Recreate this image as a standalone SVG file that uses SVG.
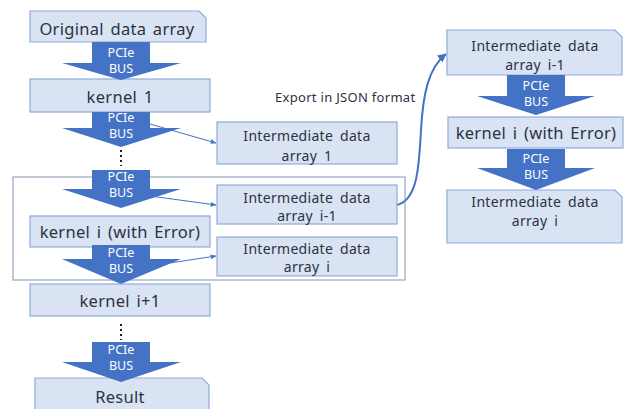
<svg xmlns="http://www.w3.org/2000/svg" width="631" height="409" viewBox="0 0 631 409">
<style>
.box{fill:#dae3f3;stroke:#8faadc;stroke-width:1.2}
.bus{fill:#4472c4}
.bt{font-family:"Noto Sans","Open Sans",sans-serif;font-size:12.5px;fill:#ffffff;text-anchor:middle;dominant-baseline:central}
.t16{font-family:"Noto Sans","Open Sans",sans-serif;font-size:16.5px;fill:#2a3342;text-anchor:middle;dominant-baseline:central;word-spacing:2px;letter-spacing:0.3px}
.t14{font-family:"Noto Sans","Open Sans",sans-serif;font-size:14px;fill:#2a3342;text-anchor:middle;dominant-baseline:central;word-spacing:3px;letter-spacing:0.3px}
.lbl{font-family:"Noto Sans","Open Sans",sans-serif;font-size:13px;fill:#2a3342;dominant-baseline:central;letter-spacing:0.3px}
.conn{fill:none;stroke:#4472c4;stroke-width:1}
.dots{fill:none;stroke:#222;stroke-width:2;stroke-dasharray:2 3}
</style>
<defs>
<marker id="ah" viewBox="0 0 10 10" refX="9" refY="5" markerWidth="6" markerHeight="6" orient="auto" markerUnits="userSpaceOnUse"><path d="M0,1 L10,5 L0,9 z" fill="#4472c4"/></marker>
<marker id="ah2" viewBox="0 0 10 10" refX="9" refY="5" markerWidth="9" markerHeight="9" orient="auto" markerUnits="userSpaceOnUse"><path d="M0,0 L10,5 L0,10 z" fill="#4472c4"/></marker>
</defs>
<g id="connectors">
<path class="conn" d="M150,124 L216,143" marker-end="url(#ah)"/>
<path class="conn" d="M150,196 L216,205" marker-end="url(#ah)"/>
<path class="conn" d="M150,266 L216,256" marker-end="url(#ah)"/>
<path d="M397,205 C418,200 419,165 421,130 C423,95 428,68 446,54" fill="none" stroke="#4472c4" stroke-width="2" marker-end="url(#ah2)"/>
<path class="dots" d="M121,150 L121,166"/>
<path class="dots" d="M121,324 L121,340"/>
</g>
<g id="group-frame"><rect x="13" y="177" width="392" height="103" fill="none" stroke="#8497b0" stroke-width="1"/></g>
<g id="original"><path class="box" d="M30,11 H199 L206,18 V42 H30 Z"/><text class="t16" x="117" y="28">Original data array</text></g>
<g id="kernel1"><rect class="box" x="30" y="79" width="180" height="33"/><text class="t16" x="120" y="96">kernel 1</text></g>
<g id="kerneli"><rect class="box" x="30" y="216" width="180" height="31"/><text class="t16" x="120" y="231">kernel i (with Error)</text></g>
<g id="kerneli1"><rect class="box" x="30" y="284" width="180" height="32"/><text class="t16" x="120" y="300">kernel i+1</text></g>
<g id="result"><path class="box" d="M35,378 H202 L209,385 V412 H35 Z"/><text class="t16" x="120" y="396">Result</text></g>
<g id="inter1"><rect class="box" x="217" y="122" width="180" height="42"/><text class="t14" x="307" y="135">Intermediate data</text><text class="t14" x="307" y="155">array 1</text></g>
<g id="interim1"><rect class="box" x="217" y="185" width="180" height="39"/><text class="t14" x="307" y="197">Intermediate data</text><text class="t14" x="307" y="215">array i-1</text></g>
<g id="interi"><rect class="box" x="217" y="237" width="180" height="39"/><text class="t14" x="307" y="248">Intermediate data</text><text class="t14" x="307" y="266">array i</text></g>
<g id="r-interim1"><path class="box" d="M447,30 H615 L622,37 V75 H447 Z"/><text class="t14" x="535" y="45">Intermediate data</text><text class="t14" x="535" y="64">array i-1</text></g>
<g id="r-kerneli"><rect class="box" x="448" y="117" width="175" height="31"/><text class="t16" x="536" y="132">kernel i (with Error)</text></g>
<g id="r-interi"><path class="box" d="M447,190 H615 L622,197 V243 H447 Z"/><text class="t14" x="535" y="201">Intermediate data</text><text class="t14" x="535" y="220">array i</text></g>
<g id="bus1"><path class="bus" d="M92,42 H150 V63 H181 L121,80 L62,63 H92 Z"/><text class="bt" x="121" y="52">PCIe</text><text class="bt" x="121" y="68">BUS</text></g>
<g id="bus2"><path class="bus" d="M92,112 H150 V128 H181 L121,147 L62,128 H92 Z"/><text class="bt" x="121" y="117">PCIe</text><text class="bt" x="121" y="133">BUS</text></g>
<g id="bus3"><path class="bus" d="M92,170 H150 V189 H181 L121,208 L62,189 H92 Z"/><text class="bt" x="121" y="176">PCIe</text><text class="bt" x="121" y="192">BUS</text></g>
<g id="bus4"><path class="bus" d="M92,245 H150 V259 H181 L121,284 L62,259 H92 Z"/><text class="bt" x="121" y="252">PCIe</text><text class="bt" x="121" y="268">BUS</text></g>
<g id="bus5"><path class="bus" d="M92,342 H150 V362 H181 L121,382 L62,362 H92 Z"/><text class="bt" x="121" y="349">PCIe</text><text class="bt" x="121" y="365">BUS</text></g>
<g id="rbus1"><path class="bus" d="M507,75 H565 V96 H595 L536,115 L477,96 H507 Z"/><text class="bt" x="536" y="85">PCIe</text><text class="bt" x="536" y="101">BUS</text></g>
<g id="rbus2"><path class="bus" d="M507,149 H565 V168 H595 L536,190 L477,168 H507 Z"/><text class="bt" x="536" y="158">PCIe</text><text class="bt" x="536" y="174">BUS</text></g>
<g id="export-label"><text class="lbl" x="275" y="97">Export in JSON format</text></g>
</svg>
